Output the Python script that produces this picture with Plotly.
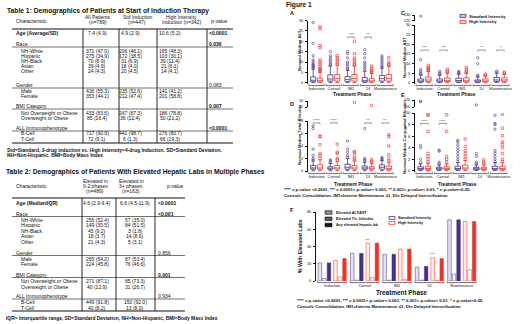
import plotly.graph_objects as go

W, H = 520, 324
FONT = "Liberation Sans, Arial, Helvetica, sans-serif"
PURPLE = "#46317f"
RED = "#e8352c"
INK = "#111111"


def X(px):
    return px / W


def Y(py):
    return 1 - py / H


# ---------------------------------------------------------------- data
phases = ["Induction", "Consol", "IM1", "DI", "Maintenance"]
GROUPS = {"Race", "Gender", "BMI Category", "ALL Immunophenotype"}

t1_title = "Table 1: Demographics of Patients at Start of Induction Therapy"
t1_labels = ["Age (Average/SD)", "Race", "NH-White", "Hispanic", "NH-Black", "Asian", "Other",
             "Gender", "Male", "Female", "BMI Category", "Not Overweight or Obese",
             "Overweight or Obese", "ALL Immunophenotype", "B-Cell", "T-Cell"]
t1_all = ["7.4 (4.9)", "", "371 (47.0)", "275 (34.9)", "70 (8.9)", "39 (4.9)", "24 (4.3)", "",
          "436 (55.3)", "353 (44.1)", "", "433 (83.6)", "85 (16.4)", "", "717 (90.9)", "72 (9.1)"]
t1_std = ["4.9 (2.9)", "", "206 (46.1)", "172 (38.5)", "31 (6.9)", "18 (4.0)", "20 (4.5)", "",
          "235 (52.6)", "212 (47.4)", "", "247 (87.3)", "36 (12.4)", "", "441 (98.7)", "6 (1.3)"]
t1_high = ["10.6 (5.2)", "", "165 (48.3)", "103 (30.1)", "39 (11.4)", "21 (6.1)", "14 (4.1)", "",
           "141 (41.2)", "201 (58.8)", "", "186 (78.8)", "50 (21.2)", "", "276 (80.7)", "66 (19.3)"]
t1_p = ["<0.0001", "0.036", "", "", "", "", "", "0.083", "", "", "0.007", "", "", "<0.0001", "", ""]
t1_head = [["All Patients", "(n=789)"], ["Std Induction", "(n=447)"], ["High Intensity", "Induction (n=342)"]]
t1_foot = ["Std=Standard, 3-drug induction vs. High Intensity=4-drug Induction. SD=Standard Deviation.",
           "NH=Non-Hispanic. BMI=Body Mass Index"]

t2_title = "Table 2: Demographics of Patients With Elevated Hepatic Labs in Multiple Phases"
t2_labels = ["Age (Median/IQR)", "Race", "NH-White", "Hispanic", "NH-Black", "Asian", "Other",
             "Gender", "Male", "Female", "BMI Category", "Not Overweight or Obese",
             "Overweight or Obese", "ALL Immunophenotype", "B-Cell", "T-Cell"]
t2_low = ["4.6 (2.9-9.4)", "", "256 (52.4)", "149 (30.5)", "45 (9.2)", "18 (3.7)", "21 (4.3)", "",
          "265 (54.2)", "224 (45.8)", "", "271 (87.1)", "40 (12.9)", "", "449 (91.8)", "40 (8.2)"]
t2_multi = ["6.6 (4.5-11.9)", "", "57 (35.0)", "84 (51.5)", "3 (1.8)", "14 (8.6)", "5 (3.1)", "",
            "87 (53.4)", "76 (46.6)", "", "85 (73.3)", "31 (26.7)", "", "150 (92.0)", "13 (8.0)"]
t2_p = ["<0.0001", "<0.001", "", "", "", "", "", "0.856", "", "", "0.001", "", "", "0.934", "", ""]
t2_head = [["Elevated in", "0-2 phases", "(n=489)"], ["Elevated in", "3+ phases", "(n=163)"]]
t2_foot = "IQR= Interquartile range, SD=Standard Deviation, NH=Non-Hispanic, BMI=Body Mass Index"

# Panel A: normed median ALT (box statistics per phase)
alt_std = dict(q1=[0.5, 0.8, 0.5, 0.4, 0.8], med=[1.2, 1.8, 1.5, 1.0, 2.0],
               q3=[2.8, 3.8, 3.0, 2.5, 3.5], lo=[0.1, 0.1, 0.1, 0.1, 0.2], hi=[6.5, 8.0, 6.0, 5.5, 7.0])
alt_high = dict(q1=[0.4, 0.8, 0.8, 0.4, 0.8], med=[1.0, 2.0, 2.0, 0.9, 2.0],
                q3=[2.2, 4.0, 4.0, 2.0, 4.0], lo=[0.1, 0.1, 0.1, 0.1, 0.2], hi=[5.0, 8.5, 8.0, 4.5, 8.0])
alt_std_out = [[7, 7.5, 8, 8.5, 9, 10, 11, 13, 19, 29], [8.5, 9, 10, 11, 12, 13, 15],
               [6.5, 7, 8, 9, 10, 12, 14, 15], [6, 7, 8, 9, 10, 12, 14, 16], [7.5, 8, 9, 10, 11, 12, 13]]
alt_high_out = [[5.5, 6, 6.5, 7, 8, 9, 10, 11, 17, 18, 26, 27], [9, 10, 11, 12, 13],
                [8.5, 9, 10, 11, 12, 14, 20], [5, 5.5, 6, 7, 8], [8.5, 9, 10, 12]]
alt_sig_idx, alt_sig_txt = [2, 3], ["***", "**"]

# Panel C: normed median AST
ast_std = dict(q1=[0.5, 0.5, 0.5, 0.4, 0.8], med=[1.0, 1.0, 1.2, 0.8, 1.5],
               q3=[2.0, 2.0, 2.4, 1.5, 2.8], lo=[0.1, 0.1, 0.1, 0.1, 0.2], hi=[4.0, 4.0, 4.5, 3.0, 5.0])
ast_high = dict(q1=[0.8, 0.7, 0.6, 0.5, 0.8], med=[1.5, 1.3, 1.3, 1.0, 1.5],
                q3=[3.0, 2.5, 2.6, 2.0, 2.6], lo=[0.1, 0.1, 0.1, 0.1, 0.2], hi=[6.0, 5.0, 5.0, 3.5, 4.5])
ast_std_out = [[4.5, 5, 6, 7, 12, 128], [4.5, 5, 6], [5, 5.5, 6], [3.5, 4, 10, 13], [5.5, 6]]
ast_high_out = [[6.5, 7, 7.5, 8, 9], [5.5, 6, 7], [5.5, 6, 7, 8], [4, 4.5], [5, 5.5]]
ast_sig_idx, ast_sig_txt = [0, 1, 3, 4], ["***", "***", "**", "*"]

# Panel D: normed median total bilirubin
tbil_std = dict(q1=[0.3, 0.3, 0.3, 0.3, 0.3], med=[0.5, 0.4, 0.6, 0.5, 0.6],
                q3=[0.9, 0.7, 1.1, 0.8, 1.0], lo=[0.05, 0.05, 0.05, 0.05, 0.05], hi=[1.6, 1.2, 2.0, 1.4, 1.7])
tbil_high = dict(q1=[0.3, 0.3, 0.3, 0.3, 0.2], med=[0.5, 0.5, 0.5, 0.4, 0.4],
                 q3=[1.0, 0.9, 0.9, 0.7, 0.8], lo=[0.05, 0.05, 0.05, 0.05, 0.05], hi=[1.8, 1.5, 1.6, 1.2, 1.4])
tbil_std_out = [[1.8, 2, 2.5, 3.5, 6.8, 7.2], [1.4, 1.6, 1.8], [2.2, 2.5, 3, 3.5, 4.8],
                [1.6, 1.8, 2, 6.8], [1.8, 2, 2.2]]
tbil_high_out = [[2, 2.5, 2.8, 4.2, 5.5, 5.6], [1.8, 2, 2.8, 3, 4.3], [1.8, 2, 2.5, 3, 3.1, 15.2],
                 [1.4, 1.6, 1.8, 13.0], [1.6, 2, 2.6, 4, 5.5, 5.8]]
tbil_sig_idx, tbil_sig_txt = [0, 1, 3, 4], ["****", "****", "**", "**"]

# Panel E: normed median conjugated bilirubin
cbil_std = dict(q1=[0.2, 0.2, 0.2, 0.2, 0.2], med=[0.4, 0.3, 0.4, 0.3, 0.4],
                q3=[0.7, 0.6, 0.8, 0.6, 0.8], lo=[0.05, 0.05, 0.05, 0.05, 0.05], hi=[1.2, 1.0, 1.4, 1.0, 1.4])
cbil_high = dict(q1=[0.2, 0.2, 0.3, 0.2, 0.2], med=[0.4, 0.4, 0.5, 0.3, 0.4],
                 q3=[0.8, 0.7, 1.0, 0.6, 0.8], lo=[0.05, 0.05, 0.05, 0.05, 0.05], hi=[1.3, 1.2, 1.8, 1.0, 1.4])
cbil_std_out = [[1.4, 2, 4, 4.4, 115, 118], [1.2, 1.5, 3.4, 3.6], [1.6, 2, 2.5, 3, 3.5, 4, 4.5, 5, 5.3],
                [1.2, 1.5, 2.5, 3, 106], [1.6, 2, 2.5, 3, 3.5, 7.2, 8, 8.2, 9.6]]
cbil_high_out = [[1.5, 2, 2.5, 3, 6.8, 9.6, 9.8], [1.5, 2, 2.5, 6.8, 9.7], [2, 2.5, 3, 3.5, 4.2, 5.5],
                 [1.2, 1.5, 1.9], [1.6, 2, 3, 4, 4.6, 5, 6.1, 7.4, 9.8]]
cbil_sig_idx, cbil_sig_txt = [0, 1], ["****", "****"]

# Panel F: % with elevated labs
f_std_alt = [21, 32, 31, 16, 71]
f_std_bili = [3, 1, 1, 1, 8]
f_std_any = [21, 32, 31, 17, 71]
f_high_alt = [24, 44, 37, 27, 69]
f_high_bili = [5, 4, 2, 0.6, 13]
f_high_any = [26, 44, 37, 26, 69]
f_sig_idx, f_sig_txt = [1, 3], ["***", "***"]

fig = go.Figure()
shapes, anns = [], []
BODY = 5.0


def text(x, y, s, size=BODY, bold=False, anchor="left", color=INK, angle=0):
    anns.append(dict(x=X(x), y=Y(y), xref="paper", yref="paper",
                     text=(f"<b>{s}</b>" if bold else s), showarrow=False,
                     xanchor=anchor, yanchor="middle", textangle=angle, borderpad=0,
                     font=dict(size=size, family=FONT, color=color)))


def hline(x0, x1, y, w=0.6):
    shapes.append(dict(type="line", xref="paper", yref="paper", x0=X(x0), x1=X(x1),
                       y0=Y(y), y1=Y(y), line=dict(color=INK, width=w)))


def vline(x, y0, y1, w=0.9):
    shapes.append(dict(type="line", xref="paper", yref="paper", x0=X(x), x1=X(x),
                       y0=Y(y0), y1=Y(y1), line=dict(color=INK, width=w)))


def is_sig(p):
    if not p:
        return False
    if p.startswith("<"):
        return True
    return float(p) < 0.05


# ---------------------------------------------------------------- Table 1
t1_row_y = [33, 44, 50.5, 55.8, 61, 66.2, 71.4, 85, 90.5, 95.8, 106, 112.5, 118, 128, 133.5, 139]
text(6, 11, t1_title, size=6.7, bold=True)
text(15, 21, "Characteristic")
for (a, b), cx in zip(t1_head, [98, 137, 181]):
    text(cx, 16.5, a, anchor="center")
    text(cx, 22.5, b, anchor="center")
text(219, 21, "p-value", anchor="center")
hline(12, 233, 29, 1.0)
for vx in [83, 119, 157, 207]:
    vline(vx, 29, 143)
hline(12, 233, 143, 1.0)
for i, lab in enumerate(t1_labels):
    y = t1_row_y[i]
    if i == 0:
        text(15, y, lab, bold=True)
    elif lab in GROUPS:
        text(15, y, lab)
        hline(12, 233, y + 3.0, 0.6)
    else:
        text(20, y, lab)
    for col, cx in zip([t1_all, t1_std, t1_high], [97, 130, 170]):
        if col[i]:
            text(cx, y, col[i], anchor="center")
    if t1_p[i]:
        text(208, y, t1_p[i], bold=is_sig(t1_p[i]))
text(6, 150, t1_foot[0], size=4.9, bold=True)
text(6, 156, t1_foot[1], size=4.9, bold=True)

# ---------------------------------------------------------------- Table 2
t2_row_y = [203, 213.5, 219.5, 225.2, 230.8, 236.4, 242, 252.5, 258.5, 264, 274.5, 280.8, 286.5,
            296, 302, 307.5]
text(5, 172, t2_title, size=6.7, bold=True)
text(15, 186, "Characteristic")
for lines, cx in zip(t2_head, [95, 131]):
    for k, s in enumerate(lines):
        text(cx, 181 + 5.2 * k, s, anchor="center")
text(175, 186, "p-value", anchor="center")
hline(12, 185, 198, 1.0)
for vx in [82, 116, 155]:
    vline(vx, 198, 311)
hline(12, 185, 311, 1.0)
for i, lab in enumerate(t2_labels):
    y = t2_row_y[i]
    if i == 0:
        text(15, y, lab, bold=True)
    elif lab in GROUPS:
        text(15, y, lab)
        hline(12, 185, y + 3.0, 0.6)
    else:
        text(20, y, lab)
    for col, cx in zip([t2_low, t2_multi], [97, 135]):
        if col[i]:
            text(cx, y, col[i], anchor="center")
    if t2_p[i]:
        text(157, y, t2_p[i], bold=is_sig(t2_p[i]))
text(5, 318.5, t2_foot, size=4.9, bold=True)

# ---------------------------------------------------------------- Figure 1 axes
axis_font = dict(size=4, family=FONT, color=INK)
layout_axes = {}


def ydef(top, bottom, rng, ticks, anchor, visible_line=True):
    return dict(domain=[Y(bottom), Y(top)], range=rng, tickvals=ticks, anchor=anchor,
                showline=visible_line, linecolor=INK, linewidth=0.7, ticks="outside", ticklen=2,
                tickwidth=0.6, tickcolor=INK, tickfont=axis_font, showgrid=False, zeroline=False,
                ticklabelstandoff=1)


def xdef(left, right, anchor):
    return dict(domain=[X(left), X(right)], range=[-0.5, 4.5], anchor=anchor,
                tickvals=list(range(len(phases))), ticktext=phases, showline=False, ticks="",
                tickfont=axis_font, showgrid=False, zeroline=False, ticklabelstandoff=1)


# A
layout_axes["xaxis"] = xdef(308, 394, "y")
layout_axes["yaxis"] = ydef(20.5, 84, [-0.6, 30], [0, 5, 10, 15, 20, 25, 30], "x")
# C
layout_axes["xaxis2"] = xdef(415, 510, "y2")
layout_axes["yaxis2"] = ydef(25, 84, [-0.6, 30], [0, 5, 10, 15, 20, 25, 30], "x2")
layout_axes["yaxis3"] = ydef(15, 20.5, [120, 130], [120, 130], "x2")
# D
layout_axes["xaxis3"] = xdef(308, 394, "y4")
layout_axes["yaxis4"] = ydef(121, 172, [-0.15, 8], [0, 2, 4, 6, 8], "x3")
layout_axes["yaxis5"] = ydef(101, 107, [12, 16], [12, 16], "x3")
# E
layout_axes["xaxis4"] = xdef(415, 508, "y6")
layout_axes["yaxis6"] = ydef(113, 172, [-0.2, 10], [0, 2, 4, 6, 8, 10], "x4")
layout_axes["yaxis7"] = ydef(100, 107, [100, 120], [100, 120], "x4")
# F
layout_axes["xaxis5"] = xdef(316, 478, "y8")
layout_axes["yaxis8"] = ydef(212, 281, [0, 80], [0, 20, 40, 60, 80], "x5")


def brackets(xref, bottom_px):
    for i in range(len(phases)):
        y0, y1 = Y(bottom_px + 1.6), Y(bottom_px + 0.3)
        shapes.append(dict(type="path", xref=xref, yref="paper",
                           path=f"M {i-0.45},{y1} L {i-0.45},{y0} L {i+0.45},{y0} L {i+0.45},{y1}",
                           line=dict(color=INK, width=0.6)))


def box_panel(stats_s, out_s, stats_h, out_h, xa, ya_list, sig_idx, sig_txt, level, tick):
    for stats, outs, color, off in [(stats_s, out_s, PURPLE, -0.2), (stats_h, out_h, RED, 0.2)]:
        pos = [i + off for i in range(len(phases))]
        fig.add_trace(go.Box(x=pos, q1=stats["q1"], median=stats["med"], q3=stats["q3"],
                             lowerfence=stats["lo"], upperfence=stats["hi"], width=0.3,
                             whiskerwidth=0.7, line=dict(color=color, width=0.8),
                             fillcolor="rgba(255,255,255,0.85)", boxpoints=False,
                             xaxis=xa, yaxis=ya_list[0], showlegend=False, hoverinfo="skip"))
        xs, ys = [], []
        for i, vals in enumerate(outs):
            xs += [pos[i]] * len(vals)
            ys += vals
        sym = "circle-open" if color == PURPLE else "square-open"
        for ya in ya_list:
            fig.add_trace(go.Scatter(x=xs, y=ys, mode="markers", xaxis=xa, yaxis=ya,
                                     marker=dict(symbol=sym, size=2.4, color=color,
                                                 line=dict(width=0.6, color=color)),
                                     showlegend=False, hoverinfo="skip"))
    xref = xa
    yref = ya_list[0]
    for i, s in zip(sig_idx, sig_txt):
        a, b = i - 0.2, i + 0.2
        shapes.append(dict(type="path", xref=xref, yref=yref,
                           path=f"M {a},{level - tick} L {a},{level} L {b},{level} L {b},{level - tick}",
                           line=dict(color="#555555", width=0.6)))
        anns.append(dict(x=i, y=level, xref=xref, yref=yref, text=s, showarrow=False,
                         yanchor="bottom", yshift=-2.2, font=dict(size=4.2, family=FONT, color="#444444")))


box_panel(alt_std, alt_std_out, alt_high, alt_high_out, "x", ["y"], alt_sig_idx, alt_sig_txt, 22, 0.7)
box_panel(ast_std, ast_std_out, ast_high, ast_high_out, "x2", ["y2", "y3"], ast_sig_idx, ast_sig_txt, 17, 0.7)
box_panel(tbil_std, tbil_std_out, tbil_high, tbil_high_out, "x3", ["y4", "y5"], tbil_sig_idx,
          tbil_sig_txt, 7.7, 0.2)
box_panel(cbil_std, cbil_std_out, cbil_high, cbil_high_out, "x4", ["y6", "y7"], cbil_sig_idx,
          cbil_sig_txt, 8.2, 0.25)
brackets("x", 84)
brackets("x2", 84)
brackets("x3", 172)
brackets("x4", 172)
brackets("x5", 281)

# F bars
bar_specs = [
    (f_std_alt, -0.38, "#6a58a8", PURPLE, dict(shape="|", fgcolor="#b3a8da", size=2, solidity=0.35)),
    (f_std_bili, -0.24, "#5a479a", PURPLE, dict(shape="x", fgcolor="#d8d0f0", size=2, solidity=0.3)),
    (f_std_any, -0.10, PURPLE, PURPLE, None),
    (f_high_alt, 0.10, "#f07b72", RED, dict(shape="|", fgcolor="#fbc9c4", size=2, solidity=0.35)),
    (f_high_bili, 0.24, RED, RED, dict(shape="x", fgcolor="#ffffff", size=2, solidity=0.4)),
    (f_high_any, 0.38, RED, RED, None),
]
for vals, off, fill, edge, pat in bar_specs:
    marker = dict(color=fill, line=dict(color=edge, width=0.5))
    if pat:
        marker["pattern"] = pat
    fig.add_trace(go.Bar(x=[i + off for i in range(len(phases))], y=vals, width=0.11,
                         marker=marker, xaxis="x5", yaxis="y8", showlegend=False, hoverinfo="skip"))
for i, s in zip(f_sig_idx, f_sig_txt):
    anns.append(dict(x=i + 0.10, y=f_high_alt[i], xref="x5", yref="y8", text=s, showarrow=False,
                     yanchor="bottom", yshift=-1.5, font=dict(size=4, family=FONT, color="#444444")))

# ---------------------------------------------------------------- figure labels
text(285, 5, "Figure 1", size=6.6, bold=True)
for lab, x, y in [("A", 292, 13), ("C", 403, 13), ("D", 292, 104), ("E", 403, 95), ("F", 292, 210)]:
    text(x, y, lab, size=5.5, bold=True, anchor="center")
text(299, 51, "Normed Median ALT", size=4.2, bold=True, anchor="center", angle=-90)
text(404, 58, "Normed Median AST", size=4.2, bold=True, anchor="center", angle=-90)
text(299, 135, "Normed Median Total Bilirubin", size=4.2, bold=True, anchor="center", angle=-90)
text(404, 137, "Normed Median Conjugated Bilirubin", size=4.2, bold=True, anchor="center", angle=-90)
text(300, 246, "% With Elevated Labs", size=5.2, bold=True, anchor="center", angle=-90)
for x, y in [(352, 94.5), (456, 94.5), (353, 184), (457, 184)]:
    text(x, y, "Treatment Phase", size=4.8, bold=True, anchor="center")
text(402, 292, "Treatment Phase", size=6.4, bold=True, anchor="center")

foot_sig = ("**** = p-value <0.0001, *** = 0.0001< p-value< 0.001, ** 0.001< p-value< 0.01, "
            "* = p-value<0.05.")
foot_abbr = "Consol= Consolidation, IM1=Interim Maintenance #1, DI= Delayed Intensification"
text(283, 189.5, foot_sig, size=4.3, bold=True)
text(283, 195.5, foot_abbr, size=4.3, bold=True)
text(296, 300, foot_sig, size=4.3, bold=True)
text(296, 306, foot_abbr, size=4.3, bold=True)

# legend in C
for (lab, color), y in zip([("Standard Intensity", PURPLE), ("High Intensity", RED)], [16, 22]):
    shapes.append(dict(type="rect", xref="paper", yref="paper", x0=X(460), x1=X(466),
                       y0=Y(y + 1.6), y1=Y(y - 1.6), line=dict(color=color, width=0.8),
                       fillcolor="white"))
    shapes.append(dict(type="line", xref="paper", yref="paper", x0=X(460), x1=X(466),
                       y0=Y(y), y1=Y(y), line=dict(color=color, width=0.6)))
    text(468, y, lab, size=4.2, bold=True)

# legend in F
for (lab, fill), y in zip([("Elevated ALT/AST", "#8a8a8a"), ("Elevated T/c. bilirubin", "#555555"),
                           ("Any elevated hepatic lab", "#111111")], [212.5, 218.8, 225]):
    shapes.append(dict(type="rect", xref="paper", yref="paper", x0=X(325), x1=X(332),
                       y0=Y(y + 1.8), y1=Y(y - 1.8), line=dict(color=INK, width=0.6), fillcolor=fill))
    text(335, y, lab, size=3.6, bold=True)
for (lab, color), y in zip([("Standard Intensity", PURPLE), ("High Intensity", RED)], [218, 223]):
    shapes.append(dict(type="rect", xref="paper", yref="paper", x0=X(389), x1=X(395),
                       y0=Y(y + 1.4), y1=Y(y - 1.4), line=dict(color=color, width=0.8),
                       fillcolor="white"))
    text(397, y, lab, size=3.8, bold=True)

fig.update_layout(width=W, height=H, margin=dict(l=0, r=0, t=0, b=0), template="none",
                  paper_bgcolor="white", plot_bgcolor="white", showlegend=False,
                  barmode="overlay", shapes=shapes, annotations=anns,
                  font=dict(family=FONT, color=INK), **layout_axes)
fig.write_html("out.html", config={"displayModeBar": False},
               post_script="document.body.style.margin='0';document.body.style.overflow='hidden';")
